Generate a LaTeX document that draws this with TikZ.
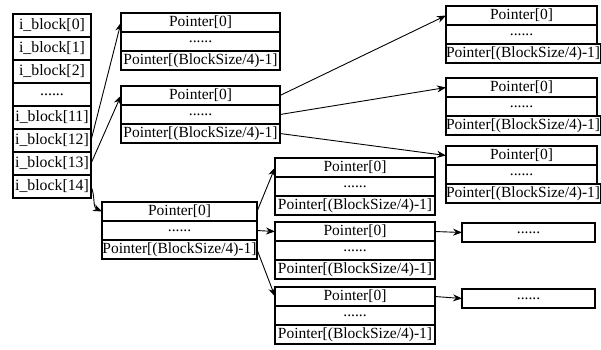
\documentclass[tikz,border=0pt]{standalone}
\usepackage{fontspec}
\setmainfont{Liberation Serif}
\usetikzlibrary{arrows.meta}
\tikzset{
  cell/.style={draw, line width=1.1, inner sep=0, outer sep=0, minimum height=19,
    font=\fontsize{15.5}{15.5}\selectfont},
  ibcell/.style={cell, minimum width=78, minimum height=23, anchor=north west,
    font=\fontsize{15.8}{15.8}\selectfont},
  conn/.style={line width=0.9, -{Stealth[length=9,width=7]}}
}
\newcommand\pbox[4]{%
  \node[cell, minimum width=#4, anchor=north west] (#1-0) at (#2,#3) {Pointer[0]};
  \node[cell, minimum width=#4, anchor=north west] (#1-d) at (#1-0.south west) {......};
  \node[cell, minimum width=#4, anchor=north west] (#1-n) at (#1-d.south west) {Pointer[(BlockSize/4)-1]};
}
\begin{document}
\begin{tikzpicture}[x=1pt,y=-1pt]
\fill[white] (0,0) rectangle (601,349);
\useasboundingbox (0,0) rectangle (601,349);
% i_block column
\node[ibcell] (ib0) at (13,14) {i\_block[0]};
\node[ibcell] (ib1) at (ib0.south west) {i\_block[1]};
\node[ibcell] (ib2) at (ib1.south west) {i\_block[2]};
\node[ibcell] (ibd) at (ib2.south west) {......};
\node[ibcell] (ib11) at (ibd.south west) {i\_block[11]};
\node[ibcell] (ib12) at (ib11.south west) {i\_block[12]};
\node[ibcell] (ib13) at (ib12.south west) {i\_block[13]};
\node[ibcell] (ib14) at (ib13.south west) {i\_block[14]};
% pointer blocks
\pbox{b1}{121}{13}{159}
\pbox{b2}{121}{86}{159}
\pbox{b3}{102}{202}{155}
\pbox{b4}{275}{158}{160}
\pbox{b5}{275}{222}{160}
\pbox{b6}{275}{287}{160}
\pbox{r1}{446}{6}{151}
\pbox{r2}{446}{78}{151}
\pbox{r3}{446}{146}{151}
\node[cell, minimum width=133, anchor=north west] (e1) at (462,223) {......};
\node[cell, minimum width=133, anchor=north west] (e2) at (462,289) {......};
% connectors
\draw[conn] (ib12.east) -- (b1-0.west);
\draw[conn] (ib13.east) -- (b2-0.west);
\draw[conn] (ib14.east) to[out=-65,in=155] (b3-0.west);
\draw[conn] (b2-0.east) -- (r1-0.west);
\draw[conn] (b2-d.east) -- (r2-0.west);
\draw[conn] (b2-n.east) -- (r3-0.west);
\draw[conn] (b3-0.east) -- (b4-0.west);
\draw[conn] (b3-d.east) -- (b5-0.west);
\draw[conn] (b3-n.east) -- (b6-0.west);
\draw[conn] (b5-0.east) -- (e1.west);
\draw[conn] (b6-0.east) -- (e2.west);
\end{tikzpicture}
\end{document}
